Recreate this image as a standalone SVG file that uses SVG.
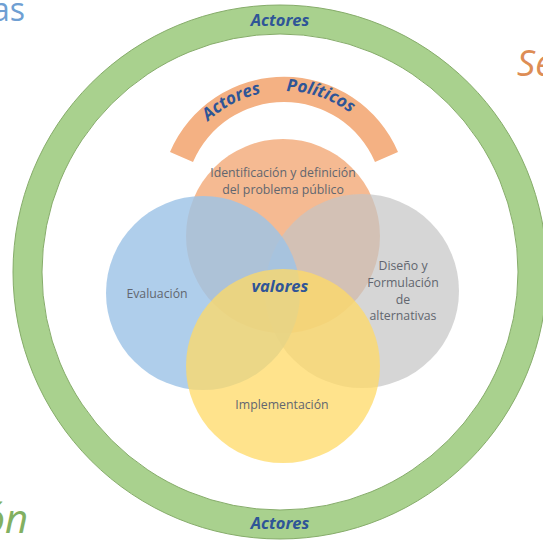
<svg xmlns="http://www.w3.org/2000/svg" width="543" height="543" viewBox="0 0 543 543">
  <style>
    .lbl { font-family: "Open Sans", "Liberation Sans", sans-serif; font-size: 12.3px; fill: #62666f; text-anchor: middle; }
    .act { font-family: "Open Sans", "Liberation Sans", sans-serif; font-size: 16.5px; font-weight: bold; font-style: italic; fill: #2f5597; text-anchor: middle; }
    .arc { font-family: "Open Sans", "Liberation Sans", sans-serif; font-size: 17px; font-weight: bold; font-style: italic; fill: #2f5597; }
    .edge { font-family: "Open Sans", "Liberation Sans", sans-serif; }
  </style>
  <defs>
    <path id="arcText" d="M 174 201 A 110 110 0 0 1 394 201"/>
  </defs>
  <rect width="543" height="543" fill="#ffffff"/>

  <!-- partial words at the edges -->
  <text class="edge" x="25" y="21" font-size="32" fill="#6f9fd3" text-anchor="end">as</text>
  <text class="edge" x="517" y="76" font-size="36" font-style="italic" fill="#dd8d55">Se</text>
  <text class="edge" x="28" y="533" font-size="40" font-style="italic" fill="#82b061" text-anchor="end">ón</text>

  <!-- outer ring -->
  <g id="ring">
    <circle cx="280" cy="272" r="252.5" fill="none" stroke="#a9d18e" stroke-width="29"/>
    <circle cx="280" cy="272" r="267" fill="none" stroke="#86ac6a" stroke-width="1"/>
    <circle cx="280" cy="272" r="238" fill="none" stroke="#86ac6a" stroke-width="1"/>
    <text class="act" x="280" y="26">Actores</text>
    <text class="act" x="280" y="529">Actores</text>
  </g>

  <!-- political actors arc -->
  <g id="actores-politicos">
    <path d="M 170 152 A 124 124 0 0 1 398 152 L 375 162 A 99 99 0 0 0 193 162 Z" fill="#f4b183"/>
    <text class="arc"><textPath href="#arcText" startOffset="89">Actores</textPath></text>
    <text class="arc"><textPath href="#arcText" startOffset="175">Políticos</textPath></text>
  </g>

  <!-- policy cycle circles -->
  <g id="identificacion">
    <circle cx="283" cy="236" r="97" fill="#f4b183" fill-opacity="0.88"/>
  </g>
  <g id="diseno">
    <circle cx="362" cy="291" r="97" fill="#c4c4c4" fill-opacity="0.7"/>
  </g>
  <g id="evaluacion">
    <circle cx="203" cy="293" r="97" fill="#9dc3e6" fill-opacity="0.82"/>
  </g>
  <g id="implementacion">
    <circle cx="283" cy="366" r="97" fill="#ffd966" fill-opacity="0.75"/>
  </g>

  <g id="labels">
    <text class="lbl" x="283" y="177">Identificación y definición</text>
    <text class="lbl" x="283" y="194">del problema público</text>
    <text class="lbl" x="157" y="298">Evaluación</text>
    <text class="lbl" x="403" y="270">Diseño y</text>
    <text class="lbl" x="403" y="287">Formulación</text>
    <text class="lbl" x="403" y="304">de</text>
    <text class="lbl" x="403" y="320">alternativas</text>
    <text class="lbl" x="282" y="409">Implementación</text>
    <text class="act" x="280" y="292" font-size="20" fill="#3b5a8f">valores</text>
  </g>
</svg>
